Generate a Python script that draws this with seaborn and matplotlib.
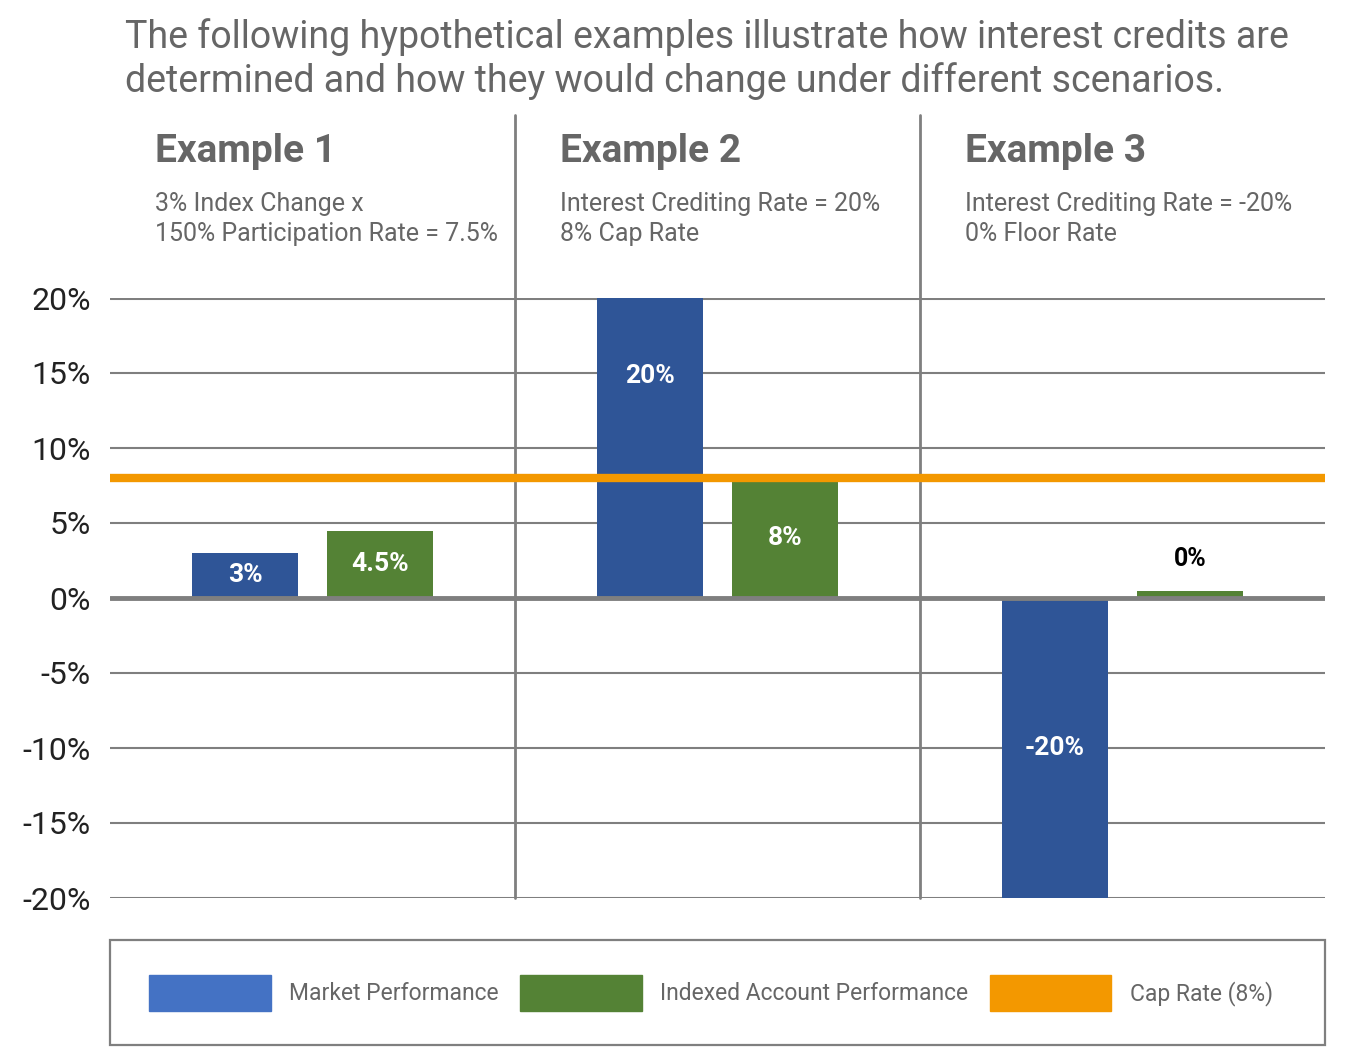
import pandas as pd
import matplotlib
matplotlib.use("Agg")
import matplotlib.pyplot as plt
from matplotlib.patches import Patch, Rectangle
import seaborn as sns

# datos del grafico
examples = ["Example 1", "Example 2", "Example 3"]
subtitles = ["3% Index Change x\n150% Participation Rate = 7.5%",
             "Interest Crediting Rate = 20%\n8% Cap Rate",
             "Interest Crediting Rate = -20%\n0% Floor Rate"]
market = [3, 20, -20]
indexed = [4.5, 8, 0.5]
market_labels = ["3%", "20%", "-20%"]
indexed_labels = ["4.5%", "8%", "0%"]
cap_rate = 8
series_names = ["Market Performance", "Indexed Account Performance", "Cap Rate (8%)"]
yticks = [-20, -15, -10, -5, 0, 5, 10, 15, 20]
title = ("The following hypothetical examples illustrate how interest credits are\n"
         "determined and how they would change under different scenarios.")

df = pd.DataFrame({
    "example": examples * 2,
    "value": market + indexed,
    "serie": [series_names[0]] * 3 + [series_names[1]] * 3,
    "label": market_labels + indexed_labels,
})

sns.set_style("white")
plt.rcParams["font.family"] = ["Roboto", "DejaVu Sans"]

GRAY = "#7f7f7f"
TXT = "#666666"
BLUE_BAR = "#2f5597"
BLUE_LEG = "#4472c4"
GREEN = "#548235"
ORANGE = "#f39800"

fig = plt.figure(figsize=(13.57, 10.47), dpi=100)
ax = fig.add_axes([110 / 1357, 1 - 898 / 1047, 1215 / 1357, 600 / 1047])

sns.barplot(data=df, x="example", y="value", hue="serie",
            palette=[BLUE_BAR, GREEN], width=0.667, gap=0.222,
            legend=False, ax=ax, zorder=3, linewidth=0, saturation=1)

ax.set_xlim(-0.5, 2.5)
ax.set_ylim(-20, 20)
ax.set_yticks(yticks)
ax.set_yticklabels([f"{t}%" for t in yticks], fontsize=23, color="#222222")
ax.tick_params(axis="y", length=0, pad=14)
ax.set_xticks([])
ax.set_xlabel("")
ax.set_ylabel("")
for s in ax.spines.values():
    s.set_visible(False)

# lineas de la cuadricula
for t in yticks:
    lw = 1.5
    z = 1
    if t == 0:
        lw, z = 3.5, 4
    elif abs(t) == 20:
        lw = 2.2
    ax.axhline(t, color=GRAY, lw=lw, zorder=z)

# separadores verticales
for xv in [0.5, 1.5]:
    ax.axvline(xv, ymin=0, ymax=(898 - 115) / 600, color=GRAY, lw=2,
               clip_on=False, zorder=2)

# linea del cap
ax.axhline(cap_rate, color=ORANGE, lw=6, zorder=5)

# etiquetas de las barras
for bars, vals, labs in zip(ax.containers, [market, indexed],
                            [market_labels, indexed_labels]):
    for bar, v, lab in zip(bars, vals, labs):
        xc = bar.get_x() + bar.get_width() / 2
        if abs(v) < 1:
            ax.text(xc, v + 2.1, lab, ha="center", va="center", fontsize=18,
                    fontweight="bold", color="black", zorder=6)
        else:
            yc = v * 0.74 if v > cap_rate else v / 2
            ax.text(xc, yc, lab, ha="center", va="center", fontsize=19,
                    fontweight="bold", color="white", zorder=6)

# encabezados de cada ejemplo
for i, (ex, sub) in enumerate(zip(examples, subtitles)):
    x0 = i - 0.5 + 45 / 405
    ax.text(x0, (898 - 151) / 600 * 40 - 20, ex, fontsize=28, fontweight="bold",
            color=TXT, ha="left", va="center")
    ax.text(x0, (898 - 219) / 600 * 40 - 20, sub, fontsize=18, color=TXT,
            ha="left", va="center", linespacing=1.3)

fig.text(125 / 1357, 1 - 59 / 1047, title, fontsize=27, color=TXT,
         ha="left", va="center", linespacing=1.2)

# leyenda con caja
fig.add_artist(Rectangle((110 / 1357, 1 - 1045 / 1047), 1215 / 1357, 105 / 1047,
                         transform=fig.transFigure, facecolor="none",
                         edgecolor=GRAY, lw=1.6))
handles = [Patch(color=BLUE_LEG), Patch(color=GREEN), Patch(color=ORANGE)]
fig.legend(handles, series_names, loc="center",
           bbox_to_anchor=(711 / 1357, 1 - 993 / 1047), ncol=3, frameon=False,
           fontsize=16.5, handlelength=5.3, handleheight=2.0, handletextpad=0.8,
           columnspacing=0.95, labelcolor=TXT)

fig.savefig("out.png", dpi=100)
